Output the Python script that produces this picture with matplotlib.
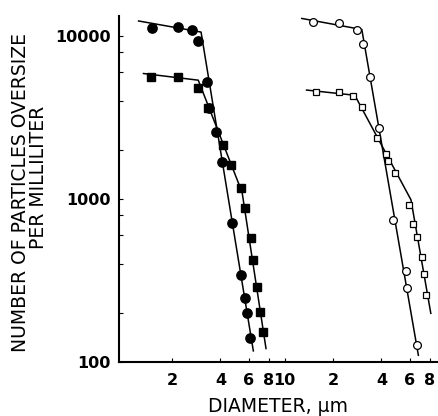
import matplotlib
matplotlib.use("Agg")
import matplotlib.pyplot as plt
from matplotlib.ticker import FixedLocator, NullFormatter, NullLocator

# Left group: diameters in um, counts per mL
left_circ_d = [1.51, 2.19, 2.65, 2.91, 3.31, 3.40, 3.75, 4.07, 4.70, 5.37, 5.68, 5.87, 6.10]
left_circ_n = [11150, 11400, 10900, 9350, 5250, 3600, 2565, 1695, 716, 342, 246, 199, 140]
left_circ_fit_d = [1.24, 3.03, 6.40]
left_circ_fit_n = [12400, 10600, 117]

left_sq_d = [1.48, 2.19, 2.91, 3.36, 4.13, 4.65, 5.35, 5.68, 6.19, 6.40, 6.78, 7.04, 7.39]
left_sq_n = [5580, 5620, 4780, 3600, 2140, 1620, 1165, 877, 574, 422, 290, 202, 153]
left_sq_fit_d = [1.33, 2.91, 5.45, 7.67]
left_sq_fit_n = [5900, 5370, 1100, 121]

# Right group: same diameter scale, drawn one decade further along the axis
right_circ_d = [1.51, 2.19, 2.81, 3.09, 3.40, 3.88, 4.74, 5.66, 5.74, 6.62]
right_circ_n = [12250, 11970, 10990, 8930, 5620, 2750, 743, 363, 283, 128]
right_circ_fit_d = [1.28, 3.02, 6.78]
right_circ_fit_n = [12850, 10990, 110]

right_sq_d = [1.57, 2.19, 2.68, 3.02, 3.77, 4.27, 4.41, 4.86, 5.93, 6.31, 6.68, 7.11, 7.38, 7.57]
right_sq_n = [4550, 4520, 4300, 3655, 2355, 1888, 1718, 1449, 918, 703, 582, 443, 347, 258]
right_sq_fit_d = [1.37, 2.73, 6.1, 8.1]
right_sq_fit_n = [4670, 4340, 990, 199]

RIGHT_SHIFT = 10
x_ticks = [2, 4, 6, 8, 10, 20, 40, 60, 80]
x_ticklabels = ["2", "4", "6", "8", "10", "2", "4", "6", "8"]
y_ticks = [100, 1000, 10000]
y_ticklabels = ["100", "1000", "10000"]
y_minor = [200, 400, 600, 800, 2000, 4000, 6000, 8000]


def shift(vals):
    return [v * RIGHT_SHIFT for v in vals]


fig = plt.figure(figsize=(4.38, 4.16), dpi=100)
ax = fig.add_axes([0.2717, 0.1298, 0.726, 0.8317])
ax.set_xscale("log"); ax.set_yscale("log")

lw = 1.1
ax.plot(left_circ_fit_d, left_circ_fit_n, c="black", lw=lw, zorder=2)
ax.plot(left_sq_fit_d, left_sq_fit_n, c="black", lw=lw, zorder=2)
ax.plot(shift(right_circ_fit_d), right_circ_fit_n, c="black", lw=lw, zorder=2)
ax.plot(shift(right_sq_fit_d), right_sq_fit_n, c="black", lw=lw, zorder=2)

ax.plot(left_circ_d, left_circ_n, "o", ms=6.7, mfc="black", mec="black", ls="none", zorder=3)
ax.plot(left_sq_d, left_sq_n, "s", ms=5.4, mfc="black", mec="black", ls="none", zorder=3)
ax.plot(shift(right_circ_d), right_circ_n, "o", ms=5.6, mfc="white", mec="black", mew=0.9, ls="none", zorder=3)
ax.plot(shift(right_sq_d), right_sq_n, "s", ms=4.5, mfc="white", mec="black", mew=0.9, ls="none", zorder=3)

ax.set_xlim(0.937, 88.5)
ax.set_ylim(100, 13300)

ax.xaxis.set_major_locator(FixedLocator(x_ticks))
ax.set_xticklabels(x_ticklabels, fontsize=11.5, fontweight="bold")
ax.xaxis.set_minor_locator(NullLocator())
ax.yaxis.set_major_locator(FixedLocator(y_ticks))
ax.set_yticklabels(y_ticklabels, fontsize=11.5, fontweight="bold")
ax.yaxis.set_minor_locator(FixedLocator(y_minor))
ax.yaxis.set_minor_formatter(NullFormatter())
ax.tick_params(axis="both", which="both", direction="in", length=3, width=0.8)
ax.tick_params(axis="y", which="major", pad=6)
ax.tick_params(axis="x", which="major", pad=8)

ax.spines[["top", "right"]].set_visible(False)
ax.spines["left"].set_linewidth(1.5)
ax.spines["bottom"].set_linewidth(1.5)

ax.set_xlabel("DIAMETER, \u03bcm", fontsize=13.5, labelpad=3)
ax.xaxis.set_label_coords(0.5, -0.1)

fig.text(0.046, 0.538, "NUMBER OF PARTICLES OVERSIZE", rotation=90,
         ha="center", va="center", fontsize=13.5)
fig.text(0.089, 0.574, "PER MILLILITER", rotation=90,
         ha="center", va="center", fontsize=13.5)

fig.savefig("out.png", dpi=100, facecolor="white")
